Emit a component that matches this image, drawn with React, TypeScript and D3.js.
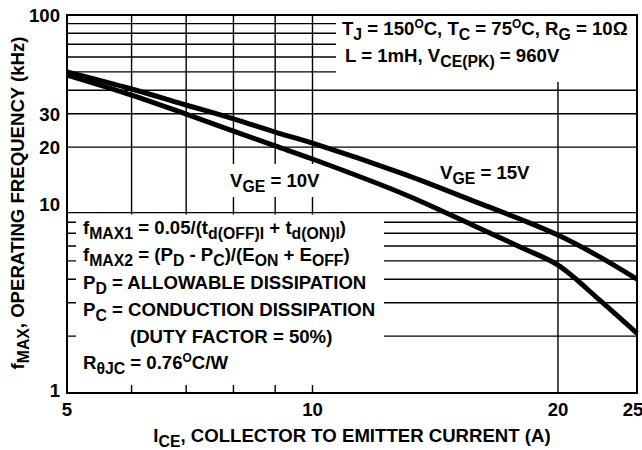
import React from 'react';
import * as d3 from 'd3';

// collector current (A) and max operating frequency (kHz)
const currents = [5, 6, 7, 8, 9, 10, 13, 16, 18, 20, 22.5, 25];
const fVge15 = [50, 40.6, 33.4, 28.2, 24.0, 21.0, 14.3, 10.1, 8.3, 6.85, 5.25, 4.0];
const fVge10 = [48.1, 37.7, 29.9, 24.3, 20.3, 17.3, 11.2, 7.46, 5.9, 4.75, 3.1, 2.07];

const xTicks = [5, 10, 20, 25];
const xMinor = [6, 7, 8, 9, 10, 20];
const yTicks = [1, 10, 20, 30, 100];
const yGrid = [2, 3, 4, 5, 6, 7, 8, 9, 20, 30, 40, 50, 60, 70, 80, 90];

type Seg = { t: string; k?: 'sub' | 'sup' };

const FONT = '"Liberation Sans", Arial, Helvetica, sans-serif';
const FS = 18.6;

function Rich({ x, y, segs, size = FS, anchor = 'start', rotate = 0 }: {
    x: number; y: number; segs: Seg[]; size?: number; anchor?: string; rotate?: number;
}) {
    let shift = 0;
    const spans = segs.map((s, i) => {
        const target = s.k === 'sub' ? size * 0.28 : s.k === 'sup' ? -size * 0.4 : 0;
        const dy = target - shift;
        shift = target;
        const fs = s.k === 'sub' ? size * 0.85 : s.k === 'sup' ? size * 0.64 : size;
        return <tspan key={i} dy={dy} fontSize={fs}>{s.t}</tspan>;
    });
    return (
        <text transform={`translate(${x},${y}) rotate(${rotate})`} textAnchor={anchor}
              fontSize={size} fontWeight="bold" fontFamily={FONT} fill="#000"
              style={{ whiteSpace: 'pre' }}>
            {spans}
        </text>
    );
}

export default function App() {
    const left = 67, right = 637, top = 15, bottom = 393;
    const x = d3.scaleLog().domain([5, 25]).range([left, right]);
    const y = d3.scaleLog().domain([1, 100]).range([bottom, top]);

    const line = d3.line<number>()
        .x((d, i) => x(currents[i]))
        .y(d => y(d))
        .curve(d3.curveCatmullRom.alpha(0.5));

    const boxText: Seg[][] = [
        [{ t: 'f' }, { t: 'MAX1', k: 'sub' }, { t: ' = 0.05/(t' }, { t: 'd(OFF)I', k: 'sub' }, { t: ' + t' }, { t: 'd(ON)I', k: 'sub' }, { t: ')' }],
        [{ t: 'f' }, { t: 'MAX2', k: 'sub' }, { t: ' = (P' }, { t: 'D', k: 'sub' }, { t: ' - P' }, { t: 'C', k: 'sub' }, { t: ')/(E' }, { t: 'ON', k: 'sub' }, { t: ' + E' }, { t: 'OFF', k: 'sub' }, { t: ')' }],
        [{ t: 'P' }, { t: 'D', k: 'sub' }, { t: ' = ALLOWABLE DISSIPATION' }],
        [{ t: 'P' }, { t: 'C', k: 'sub' }, { t: ' = CONDUCTION DISSIPATION' }],
        [{ t: '(DUTY FACTOR = 50%)' }],
        [{ t: 'R' }, { t: 'θJC', k: 'sub' }, { t: ' = 0.76' }, { t: 'O', k: 'sup' }, { t: 'C/W' }],
    ];
    const boxY = [234, 261, 289, 316, 343, 369];
    const boxX = [83, 83, 83, 83, 130, 83];

    return (
        <svg width={642} height={450} style={{ position: 'absolute', left: 0, top: 0 }}>
            <rect width={642} height={450} fill="#fff" />
            {/* grid */}
            {yGrid.map(v => (
                <line key={'h' + v} x1={left} x2={right} y1={y(v)} y2={y(v)} stroke="#000" strokeWidth={1.4} />
            ))}
            {xMinor.map(v => (
                <line key={'v' + v} x1={x(v)} x2={x(v)} y1={top} y2={bottom} stroke="#000" strokeWidth={1.4} />
            ))}
            {/* white label boxes covering the grid */}
            <rect x={336} y={top} width={right - 336} height={82 - top} fill="#fff" />
            <rect x={76} y={214.5} width={384 - 76} height={385 - 214.5} fill="#fff" />
            <rect x={200} y={164} width={125} height={33} fill="#fff" />

            {/* curves */}
            <path d={line(fVge15) || ''} fill="none" stroke="#000" strokeWidth={5} />
            <path d={line(fVge10) || ''} fill="none" stroke="#000" strokeWidth={5} />

            {/* frame */}
            <rect x={left} y={top} width={right - left} height={bottom - top} fill="none" stroke="#000" strokeWidth={2} />

            {/* tick labels */}
            {yTicks.map(v => (
                <text key={'yt' + v} x={60} y={y(v)} dy={v === 1 ? '0.2em' : '0.36em'} textAnchor="end"
                      fontSize={FS} fontWeight="bold" fontFamily={FONT}>{v}</text>
            ))}
            {xTicks.map(v => (
                <text key={'xt' + v} x={v === 25 ? 633 : x(v)} y={416} textAnchor="middle"
                      fontSize={FS} fontWeight="bold" fontFamily={FONT}>{v}</text>
            ))}

            {/* axis titles */}
            <Rich x={352} y={442} anchor="middle"
                  segs={[{ t: 'I' }, { t: 'CE', k: 'sub' }, { t: ', COLLECTOR TO EMITTER CURRENT (A)' }]} />
            <Rich x={24} y={203} anchor="middle" rotate={-90}
                  segs={[{ t: 'f' }, { t: 'MAX', k: 'sub' }, { t: ', OPERATING FREQUENCY (kHz)' }]} />

            {/* conditions */}
            <Rich x={342} y={35}
                  segs={[{ t: 'T' }, { t: 'J', k: 'sub' }, { t: ' = 150' }, { t: 'O', k: 'sup' }, { t: 'C, T' }, { t: 'C', k: 'sub' }, { t: ' = 75' }, { t: 'O', k: 'sup' }, { t: 'C, R' }, { t: 'G', k: 'sub' }, { t: ' = 10Ω' }]} />
            <Rich x={345} y={62}
                  segs={[{ t: 'L = 1mH, V' }, { t: 'CE(PK)', k: 'sub' }, { t: ' = 960V' }]} />

            <Rich x={230} y={187} segs={[{ t: 'V' }, { t: 'GE', k: 'sub' }, { t: ' = 10V' }]} />
            <Rich x={440} y={179} segs={[{ t: 'V' }, { t: 'GE', k: 'sub' }, { t: ' = 15V' }]} />

            {boxText.map((segs, i) => (
                <Rich key={'b' + i} x={boxX[i]} y={boxY[i]} segs={segs} />
            ))}
        </svg>
    );
}
